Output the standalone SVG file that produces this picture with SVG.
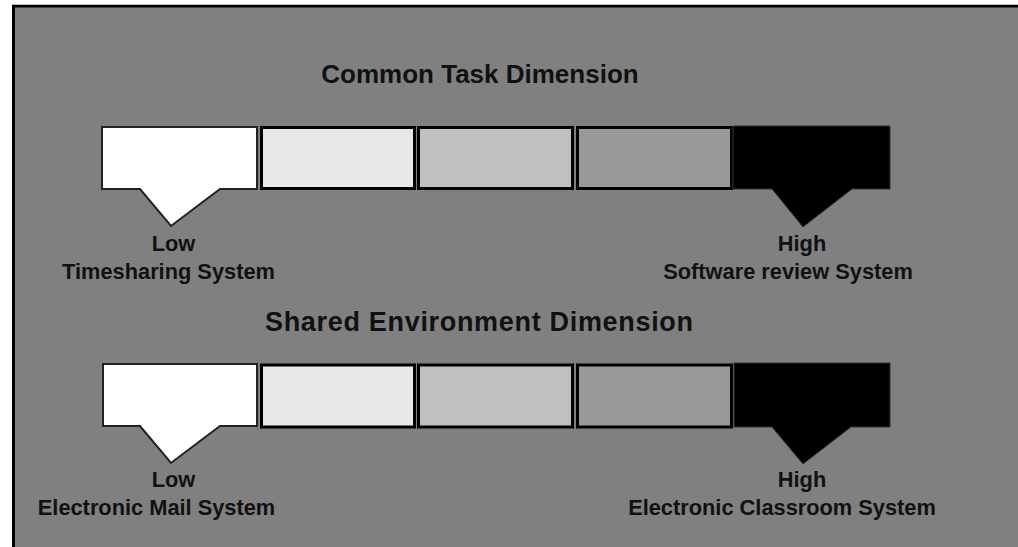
<svg xmlns="http://www.w3.org/2000/svg" width="1018" height="547" viewBox="0 0 1018 547">
  <style>
    .title { font-family: "Liberation Sans", Arial, sans-serif; font-weight: bold; font-size: 26px; fill: #111; text-anchor: middle; }
    .lbl { font-family: "Liberation Sans", Arial, sans-serif; font-weight: bold; font-size: 21.8px; fill: #111; text-anchor: middle; }
    .seg { stroke: #000; stroke-width: 3; }
    .low { fill: #fff; stroke: #222; stroke-width: 2; }
    .high { fill: #000; stroke: #333; stroke-width: 1; }
    .s2 { fill: #e8e8e8; }
    .s3 { fill: #c0c0c0; }
    .s4 { fill: #999999; }
  </style>
  <rect x="0" y="0" width="1018" height="547" fill="#fff"/>
  <rect x="13.5" y="6" width="1010" height="550" fill="#808080" stroke="#000" stroke-width="3"/>
  <line x1="12" y1="4.5" x2="1018" y2="4.5" stroke="#bbb" stroke-width="1"/>

  <text id="title-common" class="title" x="480" y="83">Common Task Dimension</text>

  <g id="row1-low">
    <polygon class="low" points="102,127 257,127 257,189 220,189 171,226 140,189 102,189"/>
    <text class="lbl" x="173.5" y="251">Low</text>
    <text class="lbl" x="168.5" y="279">Timesharing System</text>
  </g>
  <g id="row1-seg2"><rect class="seg s2" x="261.5" y="127.5" width="153" height="61"/></g>
  <g id="row1-seg3"><rect class="seg s3" x="418.5" y="127.5" width="154" height="61"/></g>
  <g id="row1-seg4"><rect class="seg s4" x="577.5" y="127.5" width="154" height="61"/></g>
  <g id="row1-high">
    <polygon class="high" points="733,126 890,126 890,189 852,189 803,227 772,189 733,189"/>
    <text class="lbl" x="802" y="251">High</text>
    <text class="lbl" x="788" y="279">Software review System</text>
  </g>

  <text id="title-shared" class="title" x="479" y="331" style="font-size:27px" textLength="428" lengthAdjust="spacing">Shared Environment Dimension</text>

  <g id="row2-low">
    <polygon class="low" points="103,364 257,364 257,426 220,426 171,463 140,426 103,426"/>
    <text class="lbl" x="173.5" y="487">Low</text>
    <text class="lbl" x="156.5" y="515">Electronic Mail System</text>
  </g>
  <g id="row2-seg2"><rect class="seg s2" x="261.5" y="365" width="153" height="62"/></g>
  <g id="row2-seg3"><rect class="seg s3" x="418.5" y="365" width="154" height="62"/></g>
  <g id="row2-seg4"><rect class="seg s4" x="577.5" y="365" width="154" height="62"/></g>
  <g id="row2-high">
    <polygon class="high" points="734,363 890,363 890,427 851,427 803,464 772,427 734,427"/>
    <text class="lbl" x="802" y="487">High</text>
    <text class="lbl" x="782" y="515">Electronic Classroom System</text>
  </g>
</svg>
